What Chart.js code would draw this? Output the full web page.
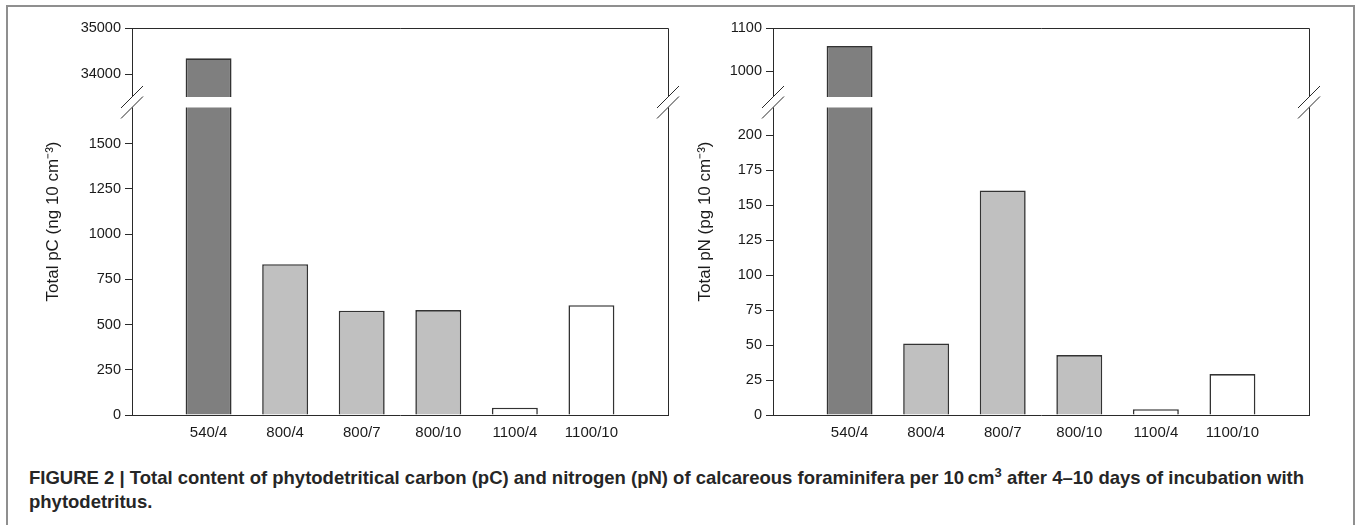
<!DOCTYPE html>
<html>
<head>
<meta charset="utf-8">
<script src="https://cdn.jsdelivr.net/npm/chart.js@4.4.1/dist/chart.umd.min.js"></script>
<style>
  body { margin: 0; width: 1357px; height: 525px; background: #fff; position: relative; overflow: hidden; font-family: "Liberation Sans", Arial, sans-serif; }
  .frame { position: absolute; left: 6px; top: 5px; width: 1345px; height: 540px; border: 2px solid #8f8f8f; border-bottom: none; }
  canvas { position: absolute; top: 0; }
  #pcChart { left: 0; }
  #pnChart { left: 640px; }
  .caption { position: absolute; left: 29px; top: 466px; font-size: 18.5px; line-height: 24px; font-weight: bold; color: #262626; white-space: nowrap; }
  .caption sup { font-size: 13px; line-height: 0; vertical-align: 7px; }
</style>
</head>
<body>
<div class="frame"></div>
<canvas id="pcChart" width="700" height="450"></canvas>
<canvas id="pnChart" width="700" height="450"></canvas>
<div class="caption">FIGURE 2 | Total content of phytodetritical carbon (pC) and nitrogen (pN) of calcareous foraminifera per 10&#8201;cm<sup>3</sup> after 4–10 days of incubation with<br>phytodetritus.</div>

<script>
// Data
const categories = ['540/4', '800/4', '800/7', '800/10', '1100/4', '1100/10'];
const pcValues = [34340, 834, 577, 580, 40, 607];
const pnValues = [1058, 51.2, 160.7, 42.9, 4.1, 29.3];
const pcTicks = [0, 250, 500, 750, 1000, 1250, 1500, 34000, 35000];
const pnTicks = [0, 25, 50, 75, 100, 125, 150, 175, 200, 1000, 1100];
const barColors = ['#7f7f7f', '#c0c0c0', '#c0c0c0', '#c0c0c0', '#ffffff', '#ffffff'];

const axisColor = '#2a2a2a';
const textColor = '#1a1a1a';

// Linear scale with a break: values up to lowEnd fill the lower part,
// values from highStart to max fill the upper part
class BrokenLinearScale extends Chart.LinearScale {
  static id = 'brokenLinear';
  static defaults = Chart.LinearScale.defaults;

  buildTicks() {
    return this.options.tickValues.map(value => ({ value }));
  }

  decimalFor(value) {
    const b = this.options.brk;
    const upperFrac = 1 - b.lowFrac - b.gapFrac;
    if (value <= b.lowEnd) return value / b.lowEnd * b.lowFrac;
    if (value < b.highStart) return b.lowFrac + b.gapFrac / 2;
    return b.lowFrac + b.gapFrac + (value - b.highStart) / (this.max - b.highStart) * upperFrac;
  }

  getPixelForValue(value) {
    return value === null || value === undefined ? NaN : this.getPixelForDecimal(this.decimalFor(value));
  }
}
Chart.register(BrokenLinearScale);

// White gap across the bars, top/right frame and the // marks
const axisBreak = {
  id: 'axisBreak',
  afterDatasetsDraw(chart) {
    const { ctx, chartArea: a, scales: { y } } = chart;
    const b = y.options.brk;
    const gapTop = y.getPixelForValue(b.highStart);
    const gapBottom = y.getPixelForValue(b.lowEnd);

    ctx.save();
    ctx.fillStyle = '#fff';
    ctx.fillRect(a.left - 2, gapTop, a.right - a.left + 4, gapBottom - gapTop);

    ctx.strokeStyle = axisColor;
    ctx.lineWidth = 1;
    ctx.beginPath();
    ctx.moveTo(a.left, a.top + 0.5);
    ctx.lineTo(a.right + 0.5, a.top + 0.5);
    ctx.lineTo(a.right + 0.5, gapTop);
    ctx.moveTo(a.right + 0.5, gapBottom);
    ctx.lineTo(a.right + 0.5, a.bottom);
    [a.left, a.right].forEach(x => {
      [gapTop, gapBottom].forEach(yy => {
        ctx.moveTo(x - 11, yy + 11);
        ctx.lineTo(x + 11, yy - 11);
      });
    });
    ctx.stroke();
    ctx.restore();
  }
};

function makeChart(id, values, ticks, brk, title, axisWidth, titlePad) {
  return new Chart(document.getElementById(id), {
    type: 'bar',
    data: {
      labels: ['', ...categories, ''],
      datasets: [{
        data: [null, ...values, null],
        backgroundColor: [null, ...barColors, null],
        borderColor: '#333',
        borderWidth: 1.6,
        barPercentage: 1,
        categoryPercentage: 0.6
      }]
    },
    options: {
      responsive: false,
      animation: false,
      devicePixelRatio: 1,
      events: [],
      layout: { padding: { top: 28, right: 700 - axisWidth - 536, left: 0, bottom: 0 } },
      plugins: { legend: { display: false }, tooltip: { enabled: false } },
      scales: {
        x: {
          offset: false,
          grid: { display: false, drawTicks: false },
          border: { display: true, color: axisColor, width: 1 },
          ticks: { color: textColor, font: { family: 'Liberation Sans', size: 15 }, padding: 9, autoSkip: false, maxRotation: 0 },
          afterFit: scale => { scale.height = 35; }
        },
        y: {
          type: 'brokenLinear',
          min: 0,
          max: ticks[ticks.length - 1],
          tickValues: ticks,
          brk: brk,
          grid: { display: true, drawOnChartArea: false, drawTicks: true, tickLength: 7, color: axisColor },
          border: { display: true, color: axisColor, width: 1 },
          ticks: { color: textColor, font: { family: 'Liberation Sans', size: 14.5 }, padding: 4, autoSkip: false, callback: v => String(v) },
          title: { display: true, text: title, color: textColor, font: { family: 'Liberation Sans', size: 17 }, padding: { top: titlePad, bottom: 0 } },
          afterFit: scale => { scale.width = axisWidth; }
        }
      }
    },
    plugins: [axisBreak]
  });
}

makeChart('pcChart', pcValues, pcTicks,
  { lowEnd: 1700, highStart: 33500, lowFrac: 0.7946, gapFrac: 0.0271 },
  'Total pC (ng 10 cm⁻³)', 132, 43);
makeChart('pnChart', pnValues, pnTicks,
  { lowEnd: 220, highStart: 940, lowFrac: 0.7946, gapFrac: 0.0271 },
  'Total pN (pg 10 cm⁻³)', 133, 55);
</script>
</body>
</html>
